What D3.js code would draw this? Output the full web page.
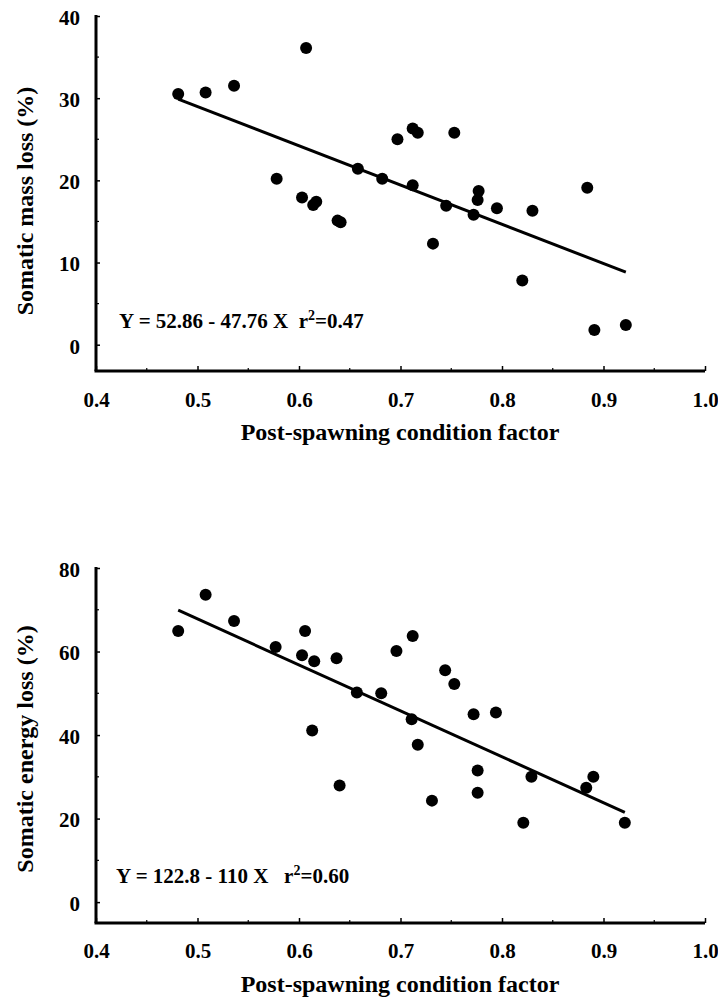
<!DOCTYPE html>
<html>
<head>
<meta charset="utf-8">
<script src="https://cdn.jsdelivr.net/npm/d3@7"></script>
<style>
  html, body { margin: 0; padding: 0; background: #fff; }
  svg { display: block; }
  text { font-family: "Liberation Serif", "Times New Roman", serif; font-weight: bold; fill: #000; }
</style>
</head>
<body>
<svg id="chart" width="718" height="1000"></svg>
<script>
// ---- Data ----
const xTickValues = [0.4, 0.5, 0.6, 0.7, 0.8, 0.9, 1.0];
const xTickLabels = ["0.4", "0.5", "0.6", "0.7", "0.8", "0.9", "1.0"];

// Panel A: somatic mass loss
const massX = [0.481, 0.508, 0.536, 0.607, 0.578, 0.603, 0.614, 0.617, 0.638, 0.641,
               0.658, 0.682, 0.697, 0.712, 0.717, 0.712, 0.753, 0.732, 0.745, 0.772,
               0.777, 0.776, 0.795, 0.830, 0.820, 0.884, 0.891, 0.922];
const massY = [30.5, 30.7, 31.5, 36.1, 20.2, 17.9, 17.0, 17.4, 15.1, 14.9,
               21.4, 20.2, 25.0, 26.3, 25.8, 19.4, 25.8, 12.3, 16.9, 15.8,
               18.7, 17.6, 16.6, 16.3, 7.8, 19.1, 1.8, 2.4];
const massTicks = [0, 10, 20, 30, 40];
const massFit = [52.86, -47.76];           // intercept, slope
const massEquation = ["Y = 52.86 - 47.76 X  r", "2", "=0.47"];
const massTitle = "Somatic mass loss (%)";

// Panel B: somatic energy loss
const energyX = [0.481, 0.508, 0.536, 0.577, 0.603, 0.606, 0.615, 0.637, 0.613, 0.640,
                 0.657, 0.681, 0.696, 0.712, 0.711, 0.717, 0.731, 0.744, 0.753, 0.772,
                 0.776, 0.776, 0.794, 0.821, 0.829, 0.883, 0.890, 0.921];
const energyY = [64.9, 73.6, 67.3, 61.1, 59.1, 64.9, 57.7, 58.4, 41.1, 27.9,
                 50.2, 50.0, 60.1, 63.7, 43.8, 37.7, 24.3, 55.5, 52.2, 45.0,
                 31.5, 26.2, 45.4, 19.0, 30.0, 27.4, 30.0, 19.0];
const energyTicks = [0, 20, 40, 60, 80];
const energyFit = [122.8, -110];
const energyEquation = ["Y = 122.8 - 110 X   r", "2", "=0.60"];
const energyTitle = "Somatic energy loss (%)";

const xTitle = "Post-spawning condition factor";

// ---- Drawing ----
const svg = d3.select("#chart");

function panel(cfg) {
  const g = svg.append("g");
  const x = d3.scaleLinear().domain([0.4, 1.0]).range([96, 705]);
  const y = d3.scaleLinear().domain(cfg.yDomain).range([cfg.bottom, cfg.top]);

  const xMinor = d3.range(0.45, 1.0, 0.1);
  const yMinor = cfg.minor;

  // x axis
  const xAxis = d3.axisBottom(x).tickValues(xTickValues)
    .tickFormat((d, i) => xTickLabels[i]).tickSizeInner(-5).tickSizeOuter(0).tickPadding(0);
  const gx = g.append("g").attr("transform", `translate(0,${cfg.bottom})`).call(xAxis);
  gx.select(".domain").attr("stroke", "#000").attr("stroke-width", 3)
    .attr("d", `M${x(0.4) - 1.5},0H${x(1.0)}`);
  gx.selectAll(".tick line").attr("stroke", "#000").attr("stroke-width", 1.5);
  gx.selectAll(".tick text").attr("font-size", 21).attr("dy", 0)
    .attr("y", cfg.xLabelY - cfg.bottom).attr("font-family", "Liberation Serif").attr("font-weight", "bold");
  g.append("g").selectAll("line").data(xMinor).join("line")
    .attr("x1", d => x(d)).attr("x2", d => x(d))
    .attr("y1", cfg.bottom).attr("y2", cfg.bottom - 3)
    .attr("stroke", "#000").attr("stroke-width", 1.2);

  // y axis
  const yAxis = d3.axisLeft(y).tickValues(cfg.ticks).tickFormat(d3.format("d"))
    .tickSizeInner(-4).tickSizeOuter(0).tickPadding(16);
  const gy = g.append("g").attr("transform", `translate(96,0)`).call(yAxis);
  gy.select(".domain").attr("stroke", "#000").attr("stroke-width", 3)
    .attr("d", `M0,${y(cfg.ticks[cfg.ticks.length - 1]) - 1}V${cfg.bottom}`);
  gy.selectAll(".tick line").attr("stroke", "#000").attr("stroke-width", 1.5);
  gy.selectAll(".tick text").attr("font-size", 21).attr("dy", "0.4em")
    .attr("font-family", "Liberation Serif").attr("font-weight", "bold");
  g.append("g").selectAll("line").data(yMinor).join("line")
    .attr("x1", 96).attr("x2", 99)
    .attr("y1", d => y(d)).attr("y2", d => y(d))
    .attr("stroke", "#000").attr("stroke-width", 1.2);

  // regression line across data range
  const [b0, b1] = cfg.fit;
  const xr = d3.extent(cfg.xs);
  g.append("line")
    .attr("x1", x(xr[0])).attr("y1", y(b0 + b1 * xr[0]))
    .attr("x2", x(xr[1])).attr("y2", y(b0 + b1 * xr[1]))
    .attr("stroke", "#000").attr("stroke-width", 3);

  // points
  g.append("g").selectAll("circle").data(cfg.xs.map((d, i) => [d, cfg.ys[i]])).join("circle")
    .attr("cx", d => x(d[0])).attr("cy", d => y(d[1])).attr("r", 6).attr("fill", "#000");

  // equation
  const eq = g.append("text").attr("x", cfg.eqX).attr("y", cfg.eqY)
    .attr("font-size", 21).style("white-space", "pre");
  eq.append("tspan").text(cfg.eq[0]);
  eq.append("tspan").attr("font-size", 14).attr("dy", -8).text(cfg.eq[1]);
  eq.append("tspan").attr("dy", 8).text(cfg.eq[2]);

  // axis titles
  g.append("text").attr("x", 400).attr("y", cfg.xTitleY).attr("text-anchor", "middle")
    .attr("font-size", 24).text(xTitle);
  g.append("text").attr("transform", `translate(33,${cfg.yTitleC}) rotate(-90)`)
    .attr("text-anchor", "middle").attr("font-size", 24).text(cfg.yTitle);
}

panel({
  xs: massX, ys: massY, fit: massFit, ticks: massTicks, minor: [5, 15, 25, 35],
  yDomain: [-3.2, 40], top: 16, bottom: 371,
  xLabelY: 407, xTitleY: 440, yTitle: massTitle, yTitleC: 201,
  eq: massEquation, eqX: 119, eqY: 328
});

panel({
  xs: energyX, ys: energyY, fit: energyFit, ticks: energyTicks, minor: [10, 30, 50, 70],
  yDomain: [-5, 80], top: 568, bottom: 923,
  xLabelY: 958, xTitleY: 992, yTitle: energyTitle, yTitleC: 749,
  eq: energyEquation, eqX: 116, eqY: 883
});
</script>
</body>
</html>
